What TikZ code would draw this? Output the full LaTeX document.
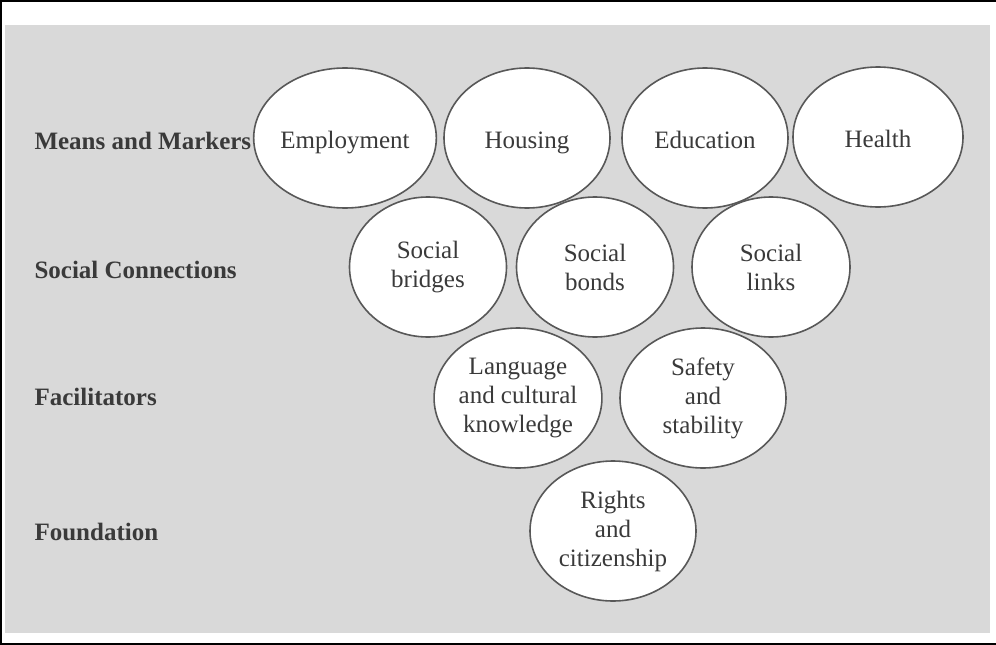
\documentclass[tikz,border=0pt]{standalone}
\usepackage{fontspec}
\setmainfont{Liberation Serif}
\usepackage{xcolor}
\usetikzlibrary{shapes}
\definecolor{panelgray}{HTML}{D9D9D9}
\definecolor{inkgray}{HTML}{3A3A3A}
\tikzstyle{bubble} = [ellipse, draw=inkgray!85, line width=1.6pt, fill=white, text=inkgray, align=center, inner sep=0pt, minimum width=166pt, minimum height=140pt, font=\fontsize{25}{29}\selectfont]
\tikzstyle{oneline} = [bubble, text height=20pt, text depth=0pt]
\tikzstyle{level} = [anchor=west, text=inkgray, font=\fontsize{25}{29}\selectfont\bfseries]

\begin{document}
\begin{tikzpicture}[x=1pt, y=-1pt]
\useasboundingbox (0,0) rectangle (996,645);
\draw [line width=1.5pt] (996,1) -- (1,1) -- (1,644) -- (996,644);
\fill [panelgray] (5,25) rectangle (990,633);
% level names
\node [level] (means-lbl) at (31,141) {Means and Markers};
\node [level] (social-lbl) at (31,270) {Social Connections};
\node [level] (facil-lbl) at (31,397) {Facilitators};
\node [level] (found-lbl) at (31,532) {Foundation};
% top row
\node [oneline] (employment) at (345,138) {Employment};
\node [oneline] (housing) at (527,138) {Housing};
\node [oneline] (education) at (705,138) {Education};
\node [oneline, minimum width=170pt] (health) at (878,137) {Health};
% social connections
\node [bubble, minimum width=157pt] (bridges) at (428,267) {Social\\bridges};
\node [bubble, minimum width=157pt] (bonds) at (595,267) {Social\\bonds};
\node [bubble, minimum width=158pt] (links) at (771,267) {Social\\links};
% facilitators
\node [bubble] (language) at (518,398) {Language\\and cultural\\knowledge};
\node [bubble] (safety) at (703,398) {Safety\\and\\stability};
% foundation
\node [bubble] (rights) at (613,531) {Rights\\and\\citizenship};
\end{tikzpicture}
\end{document}
